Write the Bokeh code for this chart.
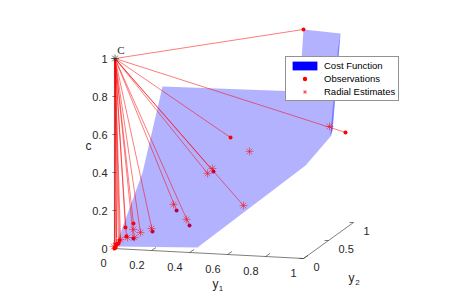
from bokeh.plotting import figure
from bokeh.models import Legend, LegendItem, Range1d
from bokeh.core.properties import value
from bokeh.embed import file_html
from bokeh.resources import INLINE

# All marks are in the projected plane of the 3-D view: horizontal u (y1 units), vertical v (c units)
apex = (0.008, 1.0)

surface_main_u = [0.011, 0.442, 1.011, 1.147, 1.158, 1.158, 0.258, 0.153]
surface_main_v = [0.011, 0.005, 0.437, 0.595, 0.784, 0.820, 0.853, 0.400]
surface_back_u = [1.000, 1.195, 1.179, 1.158, 0.979]
surface_back_v = [1.153, 1.132, 1.042, 0.820, 0.830]
surface_edge_u = [1.195, 1.153, 1.142, 1.158, 1.179]
surface_edge_v = [1.132, 0.621, 0.595, 0.784, 1.042]

obs_front_u = [1.000, 1.221, 0.616, 0.105, 0.063, 0.068, 0.032, 0.026, 0.016, 0.011, 0.005]
obs_front_v = [1.153, 0.611, 0.584, 0.132, 0.111, 0.063, 0.042, 0.026, 0.021, 0.005, 0.000]
obs_behind_u = [0.526, 0.332, 0.400, 0.205, 0.105]
obs_behind_v = [0.405, 0.200, 0.121, 0.089, 0.053]

est_u = [1.137, 0.716, 0.495, 0.521, 0.684, 0.316, 0.384, 0.200, 0.142, 0.105, 0.111, 0.074, 0.037, 0.016, 0.000]
est_v = [0.642, 0.511, 0.395, 0.421, 0.226, 0.232, 0.153, 0.105, 0.084, 0.100, 0.058, 0.058, 0.047, 0.026, 0.011]

# rays that end on an estimate with no separate observation
extra_ray_u = [0.495, 0.684, 0.142, 0.037, 0.016]
extra_ray_v = [0.395, 0.226, 0.084, 0.047, 0.058]

y1_ticks = [0, 0.2, 0.4, 0.6, 0.8, 1]
y1_labels = ["0", "0.2", "0.4", "0.6", "0.8", "1"]
y2_ticks = [0, 0.5, 1]
y2_labels = ["0", "0.5", "1"]
c_ticks = [0, 0.2, 0.4, 0.6, 0.8, 1]
c_labels = ["0", "0.2", "0.4", "0.6", "0.8", "1"]

# view projection of the axes box
Y2_U, Y2_V, Y1_V = 50 / 190, 36 / 190, -10 / 190
C_AXIS_U = 0.005


def proj(y1, y2, c):
    return y1 + Y2_U * y2, Y1_V * y1 + Y2_V * y2 + c


W, H = 449, 294
p = figure(width=W, height=H, output_backend="svg", toolbar_location=None,
           x_range=Range1d(-113 / 190, 336 / 190), y_range=Range1d(-46 / 190, 248 / 190),
           min_border=0, outline_line_color=None)
p.axis.visible = False
p.grid.visible = False
p.background_fill_color = "white"

INK = "#262626"
FONT = value("Liberation Sans")
PX = 1 / 190

# axes lines
x0, y0 = proj(0, 0, 0)
x1, y1 = proj(1, 0, 0)
x2, y2 = proj(1, 1, 0)
p.line([x0, x1, x2], [y0, y1, y2], line_color=INK, line_width=0.6)
p.line([C_AXIS_U, C_AXIS_U], [0, 1], line_color=INK, line_width=0.6)

# ticks
for t in y1_ticks:
    a, b = proj(t, 0, 0)
    p.line([a, a + 1.5 * 3 * PX], [b, b + 3 * PX], line_color=INK, line_width=0.6)
for t in y2_ticks:
    a, b = proj(1, t, 0)
    p.line([a - 4 * PX, a], [b, b], line_color=INK, line_width=0.6)
for t in c_ticks:
    p.line([C_AXIS_U - 2 * PX, C_AXIS_U + 2 * PX], [t, t], line_color=INK, line_width=0.6)

# observations seen through the surface
p.scatter(obs_behind_u, obs_behind_v, marker="circle", size=4, color="red", line_color=None)

# surface
p.patch(surface_main_u, surface_main_v, fill_color="blue", fill_alpha=0.3, line_color=None)
p.patch(surface_back_u, surface_back_v, fill_color="blue", fill_alpha=0.3, line_color=None)
p.patch(surface_edge_u, surface_edge_v, fill_color="blue", fill_alpha=0.5, line_color=None)

# rays
ray_u = obs_front_u + obs_behind_u + extra_ray_u
ray_v = obs_front_v + obs_behind_v + extra_ray_v
p.multi_line([[apex[0], a] for a in ray_u], [[apex[1], b] for b in ray_v],
             line_color="red", line_alpha=0.65, line_width=0.8)

front = p.scatter(obs_front_u, obs_front_v, marker="circle", size=4, color="red", line_color=None)
stars = p.scatter(est_u, est_v, marker="asterisk", size=8, line_color="red", line_alpha=0.7, line_width=0.7,
                  fill_color=None)
p.scatter([apex[0]], [apex[1]], marker="asterisk", size=8, line_color="#333333", line_width=0.7)

# legend swatch: a zero-area patch carrying the opaque blue
swatch = p.patch([0, 0, 0], [0, 0, 0], fill_color="blue", line_color=None)

# labels
a = [proj(t, 0, 0) for t in y1_ticks]
p.text([q[0] - 7 * PX for q in a], [q[1] - 14 * PX for q in a], text=y1_labels, text_font=FONT,
       text_font_size="11px", text_color=INK, text_align="right", text_baseline="middle")
a = [proj(1, t, 0) for t in y2_ticks]
p.text([q[0] + 10 * PX for q in a], [q[1] - 8 * PX for q in a], text=y2_labels, text_font=FONT,
       text_font_size="11px", text_color=INK, text_align="left", text_baseline="middle")
p.text([-6 * PX] * len(c_ticks), c_ticks, text=c_labels, text_font=FONT,
       text_font_size="11px", text_color=INK, text_align="right", text_baseline="middle")

p.text([(88 - 113) * PX], [(248 - 145) * PX], text=["c"], text_font=FONT, text_font_size="12px",
       text_color=INK, text_align="center", text_baseline="middle")
p.text([(215 - 113) * PX], [(248 - 283) * PX], text=["y"], text_font=FONT, text_font_size="12px",
       text_color=INK, text_align="center", text_baseline="middle")
p.text([(220.5 - 113) * PX], [(248 - 288) * PX], text=["1"], text_font=FONT, text_font_size="8px",
       text_color=INK, text_align="center", text_baseline="middle")
p.text([(351 - 113) * PX], [(248 - 277) * PX], text=["y"], text_font=FONT, text_font_size="12px",
       text_color=INK, text_align="center", text_baseline="middle")
p.text([(357 - 113) * PX], [(248 - 282) * PX], text=["2"], text_font=FONT, text_font_size="8px",
       text_color=INK, text_align="center", text_baseline="middle")
p.text([(120.5 - 113) * PX], [(248 - 49) * PX], text=["C"], text_font=value("Liberation Serif"),
       text_font_size="11px", text_color=INK, text_align="center", text_baseline="middle")

legend = Legend(items=[LegendItem(label="Cost Function", renderers=[swatch]),
                       LegendItem(label="Observations", renderers=[front]),
                       LegendItem(label="Radial Estimates", renderers=[stars])],
                location=(285, 193), orientation="vertical",
                label_text_font="Liberation Sans", label_text_font_size="9.5px", label_text_color="black",
                glyph_width=31, glyph_height=11, label_height=11, label_standoff=4,
                padding=3, margin=0, spacing=2,
                border_line_color="#262626", border_line_width=0.6,
                background_fill_color="white", background_fill_alpha=1)
p.add_layout(legend)

open("out.html", "w").write(file_html(p, INLINE))
